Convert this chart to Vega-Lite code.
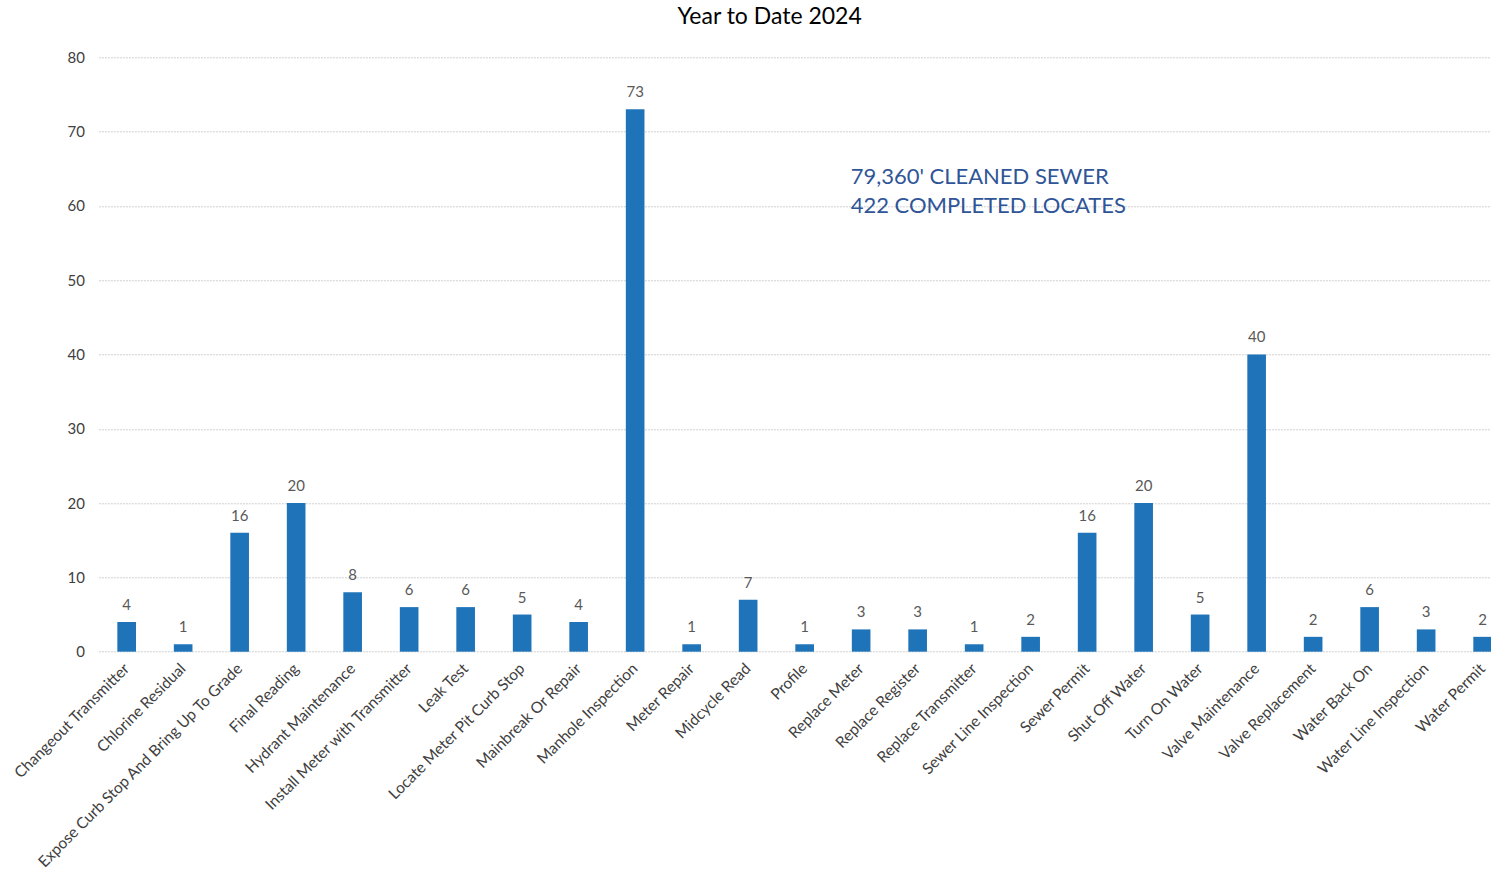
{
  "$schema": "https://vega.github.io/schema/vega-lite/v6.json",
  "autosize": "none",
  "padding": {"left": 98.4, "top": 57.3, "right": 20, "bottom": 220},
  "width": 1412.5,
  "height": 594.4,
  "background": "white",
  "title": {
    "text": "Year to Date 2024",
    "anchor": "middle",
    "dx": -35,
    "offset": 21,
    "font": "Lato",
    "fontSize": 23,
    "fontWeight": "normal",
    "color": "#000000"
  },
  "config": {
    "view": {"stroke": null},
    "font": "Lato"
  },
  "datasets": {
    "tasks": [
      {"task": "Changeout Transmitter", "count": 4},
      {"task": "Chlorine Residual", "count": 1},
      {"task": "Expose Curb Stop And Bring Up To Grade", "count": 16},
      {"task": "Final Reading", "count": 20},
      {"task": "Hydrant Maintenance", "count": 8},
      {"task": "Install Meter with Transmitter", "count": 6},
      {"task": "Leak Test", "count": 6},
      {"task": "Locate Meter Pit Curb Stop", "count": 5},
      {"task": "Mainbreak Or Repair", "count": 4},
      {"task": "Manhole Inspection", "count": 73},
      {"task": "Meter Repair", "count": 1},
      {"task": "Midcycle Read", "count": 7},
      {"task": "Profile", "count": 1},
      {"task": "Replace Meter", "count": 3},
      {"task": "Replace Register", "count": 3},
      {"task": "Replace Transmitter", "count": 1},
      {"task": "Sewer Line Inspection", "count": 2},
      {"task": "Sewer Permit", "count": 16},
      {"task": "Shut Off Water", "count": 20},
      {"task": "Turn On Water", "count": 5},
      {"task": "Valve Maintenance", "count": 40},
      {"task": "Valve Replacement", "count": 2},
      {"task": "Water Back On", "count": 6},
      {"task": "Water Line Inspection", "count": 3},
      {"task": "Water Permit", "count": 2}
    ],
    "notes": [
      {"task": "Replace Meter", "count": 63.0, "note": "79,360' CLEANED SEWER"},
      {"task": "Replace Meter", "count": 59.0, "note": "422 COMPLETED LOCATES"}
    ]
  },
  "encoding": {
    "x": {
      "field": "task",
      "type": "nominal",
      "sort": null,
      "scale": {"paddingInner": 0.67, "paddingOuter": 0.335},
      "axis": {
        "title": null,
        "labelAngle": -45,
        "labelAlign": "right",
        "labelBaseline": "middle",
        "labelFont": "Lato",
        "labelFontSize": 15.5,
        "labelColor": "#404040",
        "labelPadding": 14,
        "ticks": false,
        "domain": false,
        "labelLimit": 400
      }
    },
    "y": {
      "field": "count",
      "type": "quantitative",
      "scale": {"domain": [0, 80], "nice": false},
      "axis": {
        "title": null,
        "values": [0, 10, 20, 30, 40, 50, 60, 70, 80],
        "labelFont": "Lato",
        "labelFontSize": 15,
        "labelColor": "#404040",
        "labelPadding": 14,
        "ticks": false,
        "domain": false,
        "gridColor": "#d0d0d0",
        "gridDash": [2, 1],
        "gridWidth": 1
      }
    }
  },
  "layer": [
    {"data": {"name": "tasks"}, "mark": {"type": "bar", "color": "#1F74B9"}},
    {
      "data": {"name": "tasks"},
      "mark": {
        "type": "text",
        "baseline": "alphabetic",
        "dy": -12,
        "font": "Lato",
        "fontSize": 15,
        "color": "#595959"
      },
      "encoding": {"text": {"field": "count", "type": "quantitative"}}
    },
    {
      "data": {"name": "notes"},
      "mark": {
        "type": "text",
        "align": "left",
        "baseline": "alphabetic",
        "dx": -10.5,
        "font": "Lato",
        "fontSize": 22,
        "color": "#2F5597"
      },
      "encoding": {
        "text": {"field": "note", "type": "nominal"}
      }
    }
  ]
}
